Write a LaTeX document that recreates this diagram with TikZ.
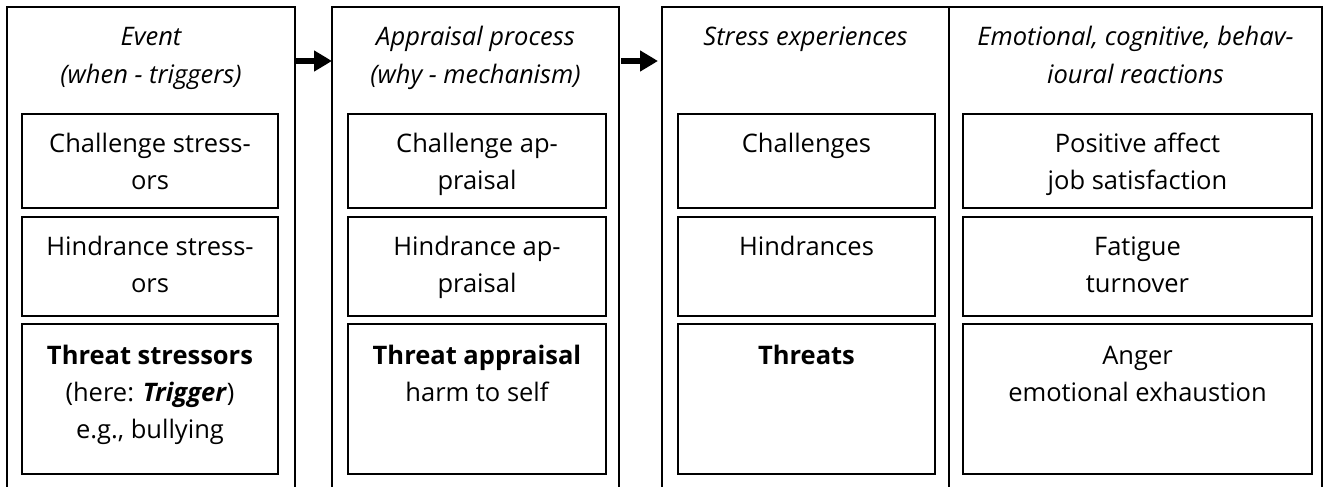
\documentclass[tikz,border=0pt]{standalone}
\usepackage{fontspec}
\setmainfont{Open Sans}
\usetikzlibrary{arrows.meta}
\newcommand\mylines[1]{\begin{tabular}[t]{@{}c@{}}#1\end{tabular}}
\begin{document}
\begin{tikzpicture}[x=1pt,y=-1pt,
  frame/.style={draw=none, inner sep=0pt, outer sep=0pt, minimum height=480pt},
  edge/.style={line width=1.8pt},
  ibox/.style={draw, line width=1.8pt, inner sep=0pt, outer sep=0pt},
  txt/.style={anchor=base, inner sep=0pt, font=\fontsize{25.5}{37}\selectfont},
  ttl/.style={txt, font=\fontsize{25.5}{37}\selectfont\itshape},
  arr/.style={line width=6pt, -{Triangle[length=18pt,width=20pt]}}]
\useasboundingbox[fill=white] (0,0) rectangle (1325,487);
% outer columns
\node[frame, minimum width=288pt] (col1) at (151,247) {};
\node[frame, minimum width=287pt] (col2) at (475.5,247) {};
\node[frame, minimum width=287pt] (col3) at (805.5,247) {};
\node[frame, minimum width=373pt] (col4) at (1135.5,247) {};
\foreach \c in {col1,col2,col3,col4}
  \draw[edge] (\c.south west) -- (\c.north west) -- (\c.north east) -- (\c.south east);
% titles
\coordinate (tb) at (0,46);
\node[ttl] (t1) at (col1.north |- tb) {\mylines{Event\\(when - triggers)}};
\node[ttl] (t2) at (col2.north |- tb) {\mylines{Appraisal process\\(why - mechanism)}};
\node[ttl] (t3) at (col3.north |- tb) {\mylines{Stress experiences}};
\node[ttl] (t4) at (col4.north |- tb) {\mylines{Emotional, cognitive, behav-\\ioural reactions}};
% inner boxes
\foreach \n/\x/\w in {1/150/256, 2/477/258, 3/806.5/257, 4/1137.5/349}{
  \node[ibox, minimum width=\w pt, minimum height=94pt] (b\n a) at (\x,161) {};
  \node[ibox, minimum width=\w pt, minimum height=99pt] (b\n b) at (\x,266.5) {};
  \node[ibox, minimum width=\w pt, minimum height=150pt] (b\n c) at (\x,399) {};
}
% texts
\node[txt] (x1a) at ([yshift=-38pt]b1a.north) {\mylines{Challenge stress-\\ors}};
\node[txt] (x1b) at ([yshift=-38pt]b1b.north) {\mylines{Hindrance stress-\\ors}};
\node[txt] (x1c) at ([yshift=-40pt]b1c.north) {\mylines{\textbf{Threat stressors}\\(here: \textbf{\textit{Trigger}})\\e.g., bullying}};
\node[txt] (x2a) at ([yshift=-38pt]b2a.north) {\mylines{Challenge ap-\\praisal}};
\node[txt] (x2b) at ([yshift=-38pt]b2b.north) {\mylines{Hindrance ap-\\praisal}};
\node[txt] (x2c) at ([yshift=-40pt]b2c.north) {\mylines{\textbf{Threat appraisal}\\harm to self}};
\node[txt] (x3a) at ([yshift=-38pt]b3a.north) {\mylines{Challenges}};
\node[txt] (x3b) at ([yshift=-38pt]b3b.north) {\mylines{Hindrances}};
\node[txt] (x3c) at ([yshift=-40pt]b3c.north) {\mylines{\textbf{Threats}}};
\node[txt] (x4a) at ([yshift=-38pt]b4a.north) {\mylines{Positive affect\\job satisfaction}};
\node[txt] (x4b) at ([yshift=-38pt]b4b.north) {\mylines{Fatigue\\turnover}};
\node[txt] (x4c) at ([yshift=-40pt]b4c.north) {\mylines{Anger\\emotional exhaustion}};
% arrows
\coordinate (ay) at (0,61);
\draw[arr] (col1.east |- ay) -- (col2.west |- ay);
\draw[arr, shorten <=2pt, shorten >=4pt] (col2.east |- ay) -- (col3.west |- ay);
\end{tikzpicture}
\end{document}
